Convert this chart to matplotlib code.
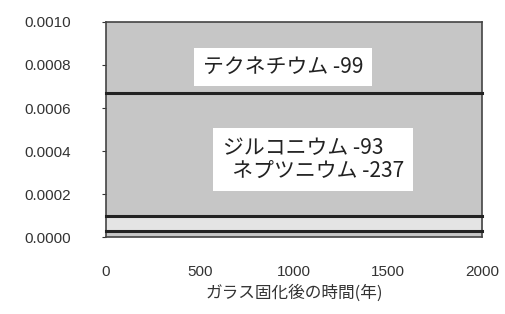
import numpy as np
import matplotlib.pyplot as plt

plt.rcParams['font.family'] = ['Noto Sans CJK JP', 'DejaVu Sans']

# data
years = [0, 2000]
tc99 = [0.00067, 0.00067]
zr93 = [0.0001, 0.0001]
np237 = [0.00003, 0.00003]
labels = ['テクネチウム -99', 'ジルコニウム -93', 'ネプツニウム -237']

fig = plt.figure(figsize=(5.06, 3.14), dpi=100)
ax = fig.add_axes([0.2095, 0.245, 0.743, 0.685])
ax.set_facecolor('#c6c6c6')

ax.fill_between(years, np237, zr93, color='#e4e4e4', zorder=2)
for v in (tc99, zr93, np237):
    ax.plot(years, v, color='#222222', lw=2.2, zorder=3, clip_on=False)

ax.set_xlim(0, 2000)
ax.set_ylim(0, 0.001)
ax.set_xticks([0, 500, 1000, 1500, 2000])
ax.set_yticks(np.arange(0, 0.0011, 0.0002))
ax.set_yticklabels(['%.4f' % t for t in np.arange(0, 0.0011, 0.0002)])
for lab in ax.get_xticklabels() + ax.get_yticklabels():
    lab.set_family('Liberation Sans')
ax.tick_params(axis='x', length=0, pad=20, labelsize=11, colors='#333333')
ax.tick_params(axis='y', length=3, pad=22, labelsize=11, colors='#333333')
for s in ax.spines.values():
    s.set_color('#444444')
    s.set_linewidth(1.2)

ax.text(515, 0.00079, labels[0], fontsize=15, color='#222222',
        va='center', ha='left', zorder=4,
        bbox=dict(boxstyle='square,pad=0.4', fc='white', ec='none'))
ax.text(620, 0.00036, labels[1] + '\n  ' + labels[2], fontsize=15,
        color='#222222', va='center', ha='left', linespacing=1.05,
        bbox=dict(boxstyle='square,pad=0.45', fc='white', ec='none'), zorder=4)

ax.set_xlabel('ガラス固化後の時間(年)', fontsize=12, color='#333333', labelpad=4)

fig.savefig('out.png', dpi=100)
